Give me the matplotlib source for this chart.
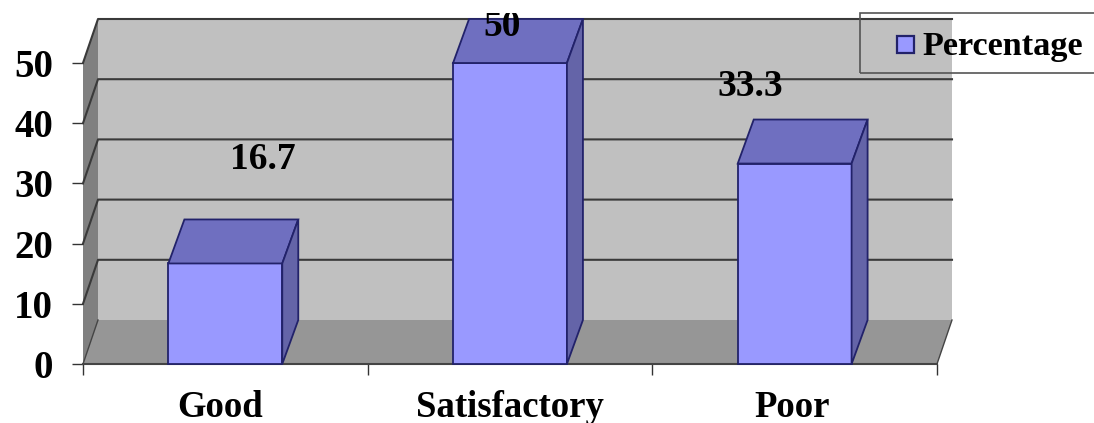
import matplotlib
matplotlib.use("Agg")
import matplotlib.pyplot as plt
from matplotlib.patches import Polygon, Rectangle

categories = ["Good", "Satisfactory", "Poor"]
percentage = [16.7, 50, 33.3]
yticks = [0, 10, 20, 30, 40, 50]

W, H = 1094, 423
plt.rcParams['font.family'] = ['Liberation Serif', 'DejaVu Sans']
plt.rcParams['font.weight'] = 'bold'

fig = plt.figure(figsize=(W / 100, H / 100), dpi=100)
ax = fig.add_axes([83 / W, 1 - 364 / H, 854 / W, 301 / H])
ax.set_xlim(0, 3)
ax.set_ylim(0, 50)

# depth of the fake 3d box, in data units
dx = 15 / 854 * 3
dy = 44 / 301 * 50
ymax = 50

# side wall, back wall, floor
ax.add_patch(Polygon([(0, 0), (dx, dy), (dx, ymax + dy), (0, ymax)], fc="#808080", ec="none", clip_on=False, zorder=1))
ax.add_patch(Polygon([(dx, dy), (3 + dx, dy), (3 + dx, ymax + dy), (dx, ymax + dy)], fc="#c0c0c0", ec="none", clip_on=False, zorder=1))
ax.add_patch(Polygon([(0, 0), (3, 0), (3 + dx, dy), (dx, dy)], fc="#969696", ec="none", clip_on=False, zorder=1))
ax.plot([3, 3 + dx], [0, dy], color="#444444", lw=1, clip_on=False, zorder=2)
ax.plot([0, dx], [0, dy], color="#444444", lw=1, clip_on=False, zorder=2)

for v in yticks[1:]:
    ax.plot([0, dx, 3 + dx], [v, v + dy, v + dy], color="#3a3a3a", lw=1.5, clip_on=False, zorder=2)
ax.plot([0, 3], [0, 0], color="#444444", lw=1.5, clip_on=False, zorder=2)

# bars
bar_w = 0.4
xs = [0.5, 1.5, 2.5]
ax.bar(xs, percentage, width=bar_w, color="#9999ff", edgecolor="#22226a", lw=1.3, zorder=3, clip_on=False)
bdx = 16 / 854 * 3
for x, v in zip(xs, percentage):
    l, r = x - bar_w / 2, x + bar_w / 2
    ax.add_patch(Polygon([(l, v), (r, v), (r + bdx, v + dy), (l + bdx, v + dy)], fc="#6f6fc0", ec="#22226a", lw=1.3, clip_on=False, zorder=3))
    ax.add_patch(Polygon([(r, 0), (r + bdx, dy), (r + bdx, v + dy), (r, v)], fc="#6464a8", ec="#22226a", lw=1.3, clip_on=False, zorder=3))

# value labels sit well away from their bars in the original
label_x = [0.63, 1.472, 2.343]
label_y = [33.9, 56.0, 46.1]
for x, y, v in zip(label_x, label_y, percentage):
    t = ax.text(x, y, f"{v:g}", ha="center", va="center", fontsize=27, zorder=5)
    t.set_clip_path(Rectangle((0, 0), 1, 1 - 13 / H, transform=fig.transFigure))
    t.set_clip_on(True)

ax.set_xticks([0, 1, 2, 3])
ax.set_xticklabels([])
ax.set_xticks([0.483, 1.5, 2.49], minor=True)
ax.set_xticklabels(categories, minor=True, fontsize=26.5, fontweight="bold")
ax.tick_params(axis="x", which="minor", length=0, pad=19)
ax.tick_params(axis="x", which="major", length=8, width=1, color="#333333")
ax.set_yticks(yticks)
ax.set_yticklabels([str(v) for v in yticks], fontsize=28, fontweight="bold")
ax.tick_params(axis="y", length=8, width=1, pad=13.5, color="#333333")
for s in ax.spines.values():
    s.set_visible(False)

# legend box, drawn by hand so it can run off the right edge
fig.add_artist(Rectangle((860 / W, 1 - 73 / H), 240 / W, 60 / H, transform=fig.transFigure, fc="none", ec="#555555", lw=1.2))
fig.add_artist(Rectangle((897 / W, 1 - 53 / H), 17 / W, 17 / H, transform=fig.transFigure, fc="#9999ff", ec="#22226a", lw=1.6))
fig.text(922 / W, 1 - 47 / H, "Percentage", fontsize=24.7, fontweight="bold", va="center", ha="left")

fig.savefig("out.png", dpi=100)
